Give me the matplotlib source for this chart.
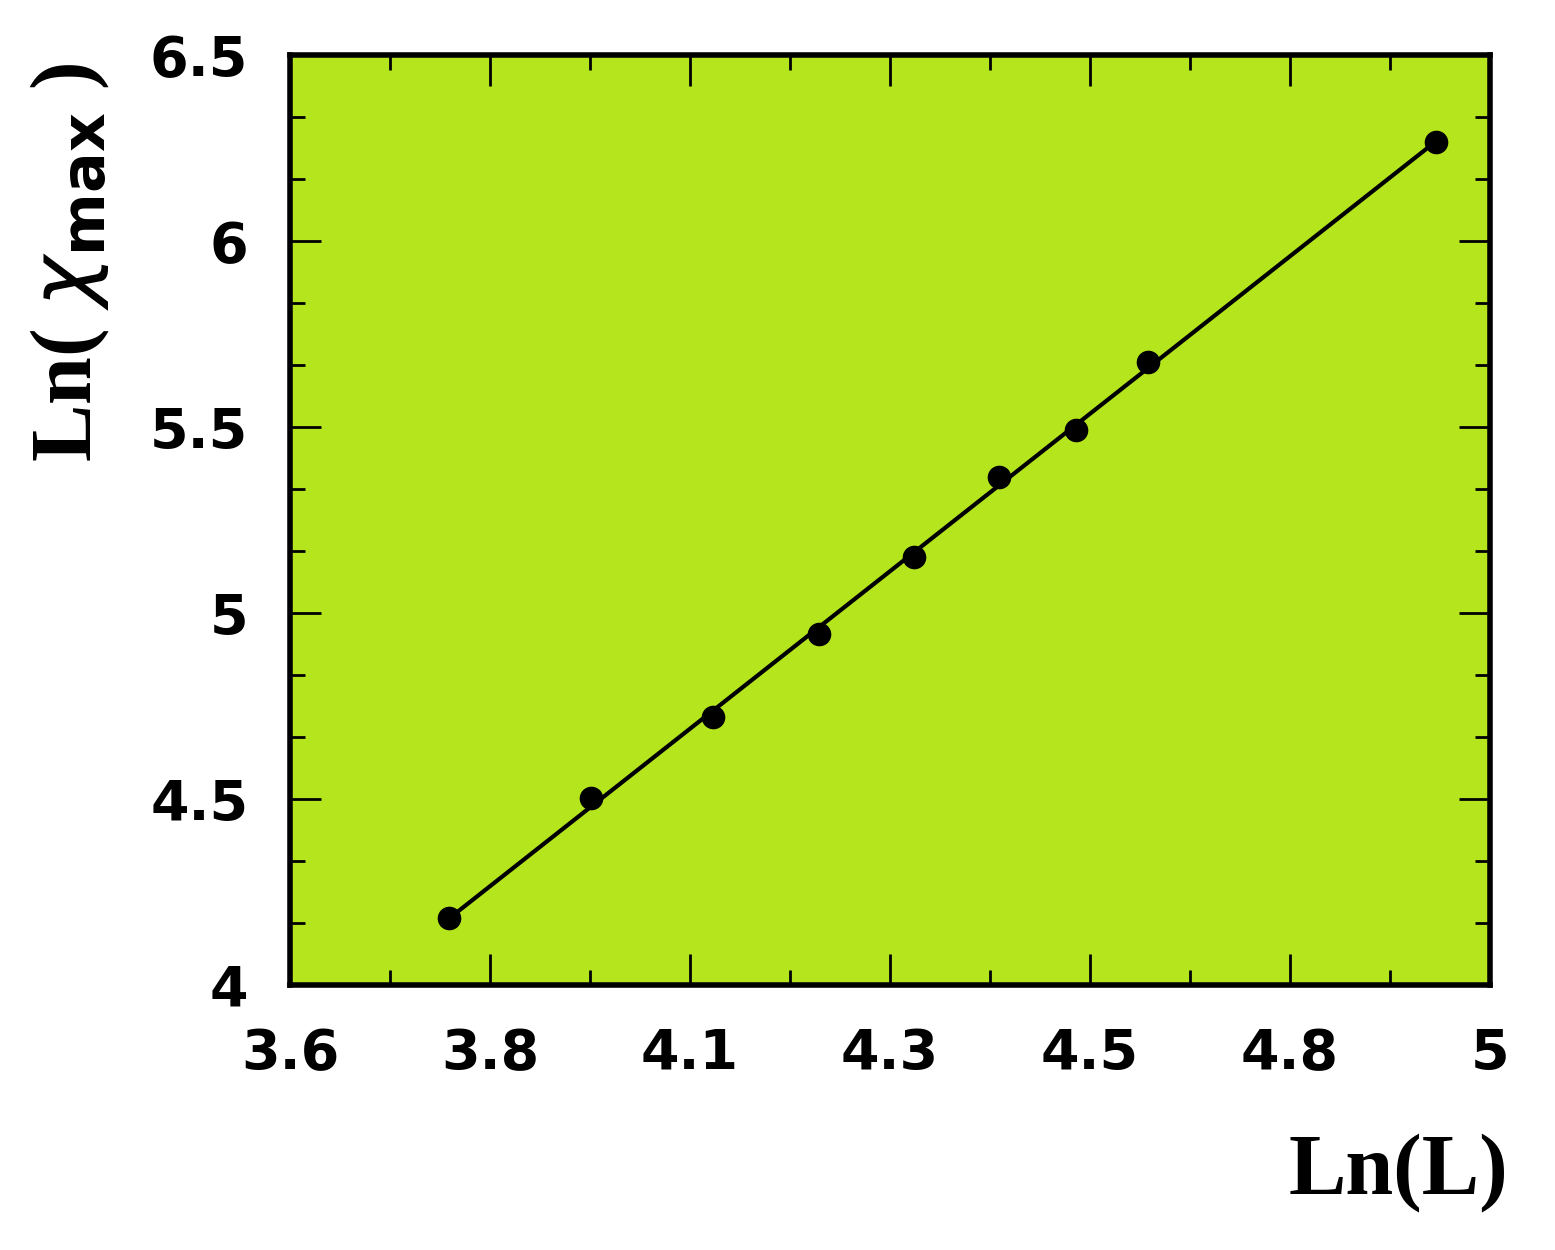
import matplotlib.pyplot as plt
import numpy as np
from matplotlib.ticker import FixedLocator, AutoMinorLocator

# Data
ln_L = [3.786, 3.951, 4.094, 4.217, 4.328, 4.427, 4.517, 4.601, 4.937]
ln_chi = [4.18, 4.503, 4.72, 4.944, 5.151, 5.366, 5.492, 5.675, 6.266]

x_ticks = np.linspace(3.6, 5.0, 7)
x_labels = ['3.6', '3.8', '4.1', '4.3', '4.5', '4.8', '5']
y_ticks = [4, 4.5, 5, 5.5, 6, 6.5]
y_labels = ['4', '4.5', '5', '5.5', '6', '6.5']

fig = plt.figure(figsize=(15.55, 12.5), dpi=100)
ax = fig.add_axes([0.1865, 0.212, 0.7717, 0.744])
ax.set_facecolor('#b5e61d')

# linear fit line
p = np.polyfit(ln_L, ln_chi, 1)
xf = np.array([ln_L[0], ln_L[-1]])
ax.plot(xf, np.polyval(p, xf), color='k', lw=3)
ax.plot(ln_L, ln_chi, 'o', color='k', ms=16)

ax.set_xlim(3.6, 5.0)
ax.set_ylim(4.0, 6.5)
ax.xaxis.set_major_locator(FixedLocator(x_ticks))
ax.set_xticklabels(x_labels)
ax.yaxis.set_major_locator(FixedLocator(y_ticks))
ax.set_yticklabels(y_labels)
ax.xaxis.set_minor_locator(AutoMinorLocator(2))
ax.yaxis.set_minor_locator(AutoMinorLocator(3))
ax.tick_params(which='both', direction='in', top=True, right=True, width=2)
ax.tick_params(which='major', length=22, labelsize=40, pad=30)
ax.tick_params(which='minor', length=11)
for lab in ax.get_xticklabels() + ax.get_yticklabels():
    lab.set_fontweight('bold')
for s in ax.spines.values():
    s.set_linewidth(4)

fig.text(0.97, 0.03, 'Ln(L)', ha='right', va='bottom', fontsize=62,
         fontweight='bold', family='Liberation Serif')
fig.text(0.045, 0.79, r'Ln( $\chi_{\mathbf{max}}$ )', ha='center', va='center',
         rotation=90, fontsize=62, fontweight='bold', family='Liberation Serif')

fig.savefig('out.png', dpi=100)
